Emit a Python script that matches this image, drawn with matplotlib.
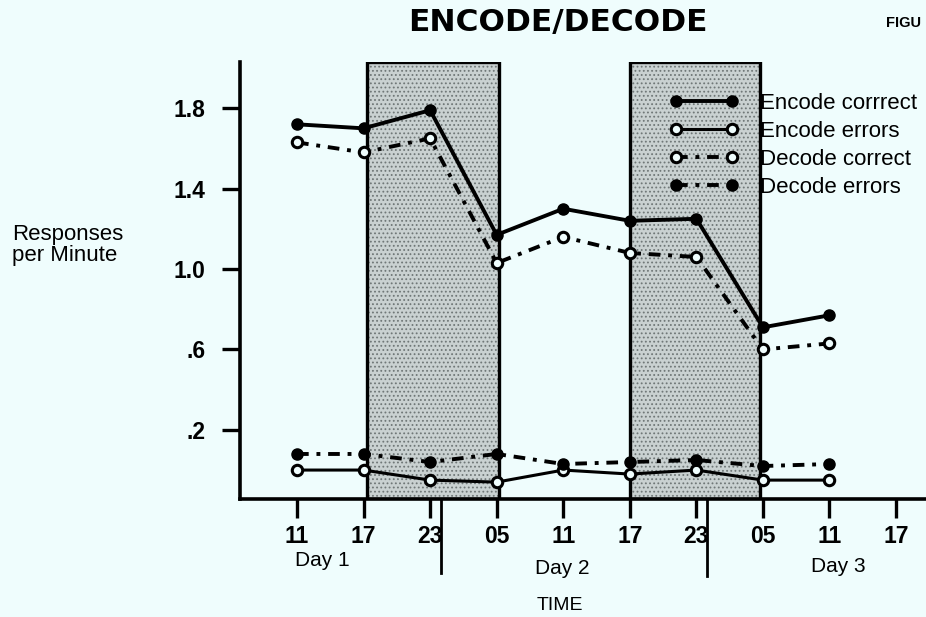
import matplotlib
matplotlib.use('Agg')
import matplotlib.pyplot as plt
from matplotlib.transforms import blended_transform_factory

plt.rcParams['font.family'] = ['Liberation Sans', 'DejaVu Sans']
plt.rcParams['hatch.linewidth'] = 0.8

BG = '#effdfd'

# ---- data ----
hours = [11, 17, 23, 29, 35, 41, 47, 53, 59]          # hours since start of Day 1
tick_hours = [11, 17, 23, 29, 35, 41, 47, 53, 59, 65]
tick_labels = ['11', '17', '23', '05', '11', '17', '23', '05', '11', '17']
encode_correct = [1.72, 1.70, 1.79, 1.17, 1.30, 1.24, 1.25, 0.71, 0.77]
encode_errors = [0.00, 0.00, -0.05, -0.06, 0.00, -0.02, 0.00, -0.05, -0.05]
decode_correct = [1.63, 1.58, 1.65, 1.03, 1.16, 1.08, 1.06, 0.60, 0.63]
decode_errors = [0.08, 0.08, 0.04, 0.08, 0.03, 0.04, 0.05, 0.02, 0.03]
dark_bands = [(17.3, 29.2), (41.0, 52.7)]
midnights = [24, 48]
day_labels = ['Day 1', 'Day 2', 'Day 3']
day_label_hours = [13.3, 34.9, 59.8]
y_ticks = [0.2, 0.6, 1.0, 1.4, 1.8]
y_tick_labels = ['.2', '.6', '1.0', '1.4', '1.8']

W, H = 926, 617
fig = plt.figure(figsize=(W / 100, H / 100), dpi=100, facecolor=BG)
ax = fig.add_axes([240 / W, 1 - 499 / H, 1 - 240 / W, (499 - 62) / H])
ax.set_facecolor(BG)

ax.set_xlim(5.86, 67.7)
ax.set_ylim(-0.144, 2.03)

for a, b in dark_bands:
    ax.axvspan(a, b, facecolor='#c9d1d1', hatch='....', edgecolor='#6f7777',
               lw=0, zorder=1)
    ax.axvspan(a, b, fill=False, edgecolor='black', lw=2.4, zorder=2)

dash = (0, (3, 2, 1, 2))
ax.plot(hours, encode_correct, ls='-', color='black', lw=2.8, marker='o', ms=8,
        mfc='black', mec='black', label='Encode corrrect', zorder=5)
ax.plot(hours, encode_errors, ls='-', color='black', lw=2.2, marker='o', ms=7.5,
        mfc=BG, mec='black', mew=2.2, label='Encode errors', zorder=5)
ax.plot(hours, decode_correct, ls=dash, color='black', lw=2.8, marker='o', ms=7.5,
        mfc=BG, mec='black', mew=2.2, label='Decode correct', zorder=5)
ax.plot(hours, decode_errors, ls=dash, color='black', lw=2.8, marker='o', ms=8,
        mfc='black', mec='black', label='Decode errors', zorder=5)

for s in ['top', 'right']:
    ax.spines[s].set_visible(False)
for s in ['left', 'bottom']:
    ax.spines[s].set_linewidth(2.6)

ax.set_xticks(tick_hours)
ax.set_xticklabels(tick_labels, fontsize=16.5, fontweight='bold')
ax.set_yticks(y_ticks)
ax.set_yticklabels(y_tick_labels, fontsize=16.5, fontweight='bold')
ax.tick_params(axis='x', length=14, width=2.4, pad=5)
ax.tick_params(axis='y', length=13, width=2.4, pad=12)

trans = blended_transform_factory(ax.transData, fig.transFigure)
for m, yb in zip(midnights, [573, 576]):
    ax.plot([m, m], [1 - 499 / H, 1 - yb / H], transform=trans, color='black',
            lw=2.0, clip_on=False)
for lab, hx, yy in zip(day_labels, day_label_hours, [561, 568, 566]):
    ax.text(hx, 1 - yy / H, lab, transform=trans, ha='center', va='center',
            fontsize=15)
ax.text(34.7, 1 - 605 / H, 'TIME', transform=trans, ha='center', va='center',
        fontsize=14)

fig.text(558 / W, 1 - 23 / H, 'ENCODE/DECODE', ha='center', va='center',
         fontsize=22.5, fontweight='bold', family=['DejaVu Sans'])
fig.text(921 / W, 1 - 23 / H, 'FIGU', ha='right', va='center', fontsize=10.5,
         fontweight='bold')
fig.text(12 / W, 1 - 245 / H, 'Responses\nper Minute', ha='left', va='center',
         fontsize=16, linespacing=1.05)

leg = ax.legend(loc='upper left', bbox_to_anchor=(669 / W, 1 - 93 / H),
                bbox_transform=fig.transFigure, frameon=False, fontsize=16,
                handlelength=3.12, handletextpad=0.96, labelspacing=0.31,
                borderpad=0, borderaxespad=0, numpoints=2)

fig.savefig('out.png', dpi=100, facecolor=BG)
